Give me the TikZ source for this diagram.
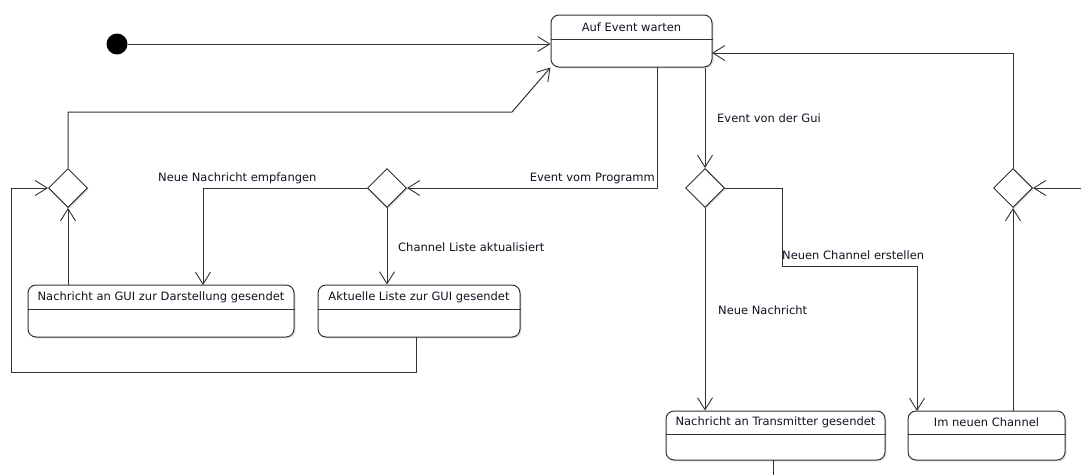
\documentclass[tikz,border=0pt]{standalone}
\usepackage{fontspec}
\setmainfont{DejaVu Sans}
\usetikzlibrary{arrows.meta,shapes.geometric,shadows,calc}
\definecolor{linec}{RGB}{50,50,50}
\definecolor{textc}{RGB}{18,18,34}
\tikzset{
  statebox/.style={draw=linec, line width=1pt, fill=white, rounded corners=8pt,
    drop shadow={opacity=0.22, shadow xshift=1.5pt, shadow yshift=-1.5pt},
    inner sep=0pt},
  choice/.style={draw=linec, line width=1pt, fill=white, diamond, aspect=1,
    minimum width=39pt, minimum height=39pt, inner sep=0pt,
    drop shadow={opacity=0.22, shadow xshift=1.5pt, shadow yshift=-1.5pt}},
  initial/.style={circle, fill=black, minimum size=21pt, inner sep=0pt},
  txt/.style={text=textc, inner sep=0pt, font=\fontsize{11.5}{13}\selectfont},
  flow/.style={draw=linec, line width=1pt},
  arr/.style={flow, -{Straight Barb[length=12pt, width=15pt, line width=0.9pt]}},
  divider/.style={draw=linec, line width=1pt},
}
\begin{document}
\begin{tikzpicture}[x=1pt, y=-1pt]
  \fill[white] (0,0) rectangle (1081,475);
  \useasboundingbox (0,0) rectangle (1081,475);

  % initial state
  \node[initial] (start) at (117,44) {};

  % states
  \node[statebox, minimum width=161pt, minimum height=52pt] (wait) at (631.5,41) {};
  \node[txt] (waitT) at (631.5,27) {Auf Event warten};
  \draw[divider] (wait.west |- 0,39) -- (wait.east |- 0,39);

  \node[statebox, minimum width=266pt, minimum height=52pt] (guiMsg) at (161,311) {};
  \node[txt] (guiMsgT) at (161,297) {Nachricht an GUI zur Darstellung gesendet};
  \draw[divider] (guiMsg.west |- 0,309) -- (guiMsg.east |- 0,309);

  \node[statebox, minimum width=202pt, minimum height=52pt] (list) at (419,311) {};
  \node[txt] (listT) at (419,297) {Aktuelle Liste zur GUI gesendet};
  \draw[divider] (list.west |- 0,309) -- (list.east |- 0,309);

  \node[statebox, minimum width=219pt, minimum height=49pt] (trans) at (775.5,435.5) {};
  \node[txt] (transT) at (775.5,422) {Nachricht an Transmitter gesendet};
  \draw[divider] (trans.west |- 0,434) -- (trans.east |- 0,434);

  \node[statebox, minimum width=157pt, minimum height=49pt] (chan) at (986.5,435.5) {};
  \node[txt] (chanT) at (986.5,422) {Im neuen Channel};
  \draw[divider] (chan.west |- 0,434) -- (chan.east |- 0,434);

  % choice points
  \node[choice] (dL) at (68,188) {};
  \node[choice] (dP) at (387,188) {};
  \node[choice] (dG) at (705,188) {};
  \node[choice] (dR) at (1013,188) {};

  % helper points on the routes
  \coordinate (waitIn) at (712,53);
  \coordinate (backBend) at (512,112);
  \coordinate (progOut) at (657,67);
  \coordinate (guiIn) at (203,285);
  \coordinate (listOut) at (416,337);
  \coordinate (loopBottom) at (11,372);
  \coordinate (newBend) at (782,266);
  \coordinate (chanIn) at (917,411);
  \coordinate (chanOut) at (1013,411);
  \coordinate (transOut) at (773,460);
  \coordinate (transEnd) at (773,475);
  \coordinate (rightEdge) at (1081,188);

  % transitions
  \draw[arr] (start) -- (wait.west |- start);
  \draw[arr] (dL.north) |- (backBend) -- (wait.south west);
  \draw[arr] (dR.north) |- (waitIn);
  \draw[arr] (progOut) |- (dP.east);
  \draw[arr] (dG.north |- wait.south) -- (dG.north);
  \draw[arr] (dP.west) -| (guiIn);
  \draw[arr] (dP.south) -- (dP.south |- list.north);
  \draw[arr] (dL.south |- guiMsg.north) -- (dL.south);
  \draw[arr] (listOut) |- (loopBottom) |- (dL.west);
  \draw[arr] (dG.east) -| (newBend) -| (chanIn);
  \draw[arr] (dG.south) -- (dG.south |- trans.north);
  \draw[arr] (chanOut) -- (dR.south);
  \draw[arr] (rightEdge) -- (dR.east);
  \draw[flow] (transOut) -- (transEnd);

  % transition labels
  \node[txt, anchor=east] (lProg) at (655,178) {Event vom Programm};
  \node[txt, anchor=west] (lGui) at (717,118) {Event von der Gui};
  \node[txt, anchor=west] (lRecv) at (158,178) {Neue Nachricht empfangen};
  \node[txt, anchor=west] (lList) at (398,247) {Channel Liste aktualisiert};
  \node[txt, anchor=west] (lNew) at (782,255) {Neuen Channel erstellen};
  \node[txt, anchor=west] (lMsg) at (718,310) {Neue Nachricht};
\end{tikzpicture}
\end{document}
